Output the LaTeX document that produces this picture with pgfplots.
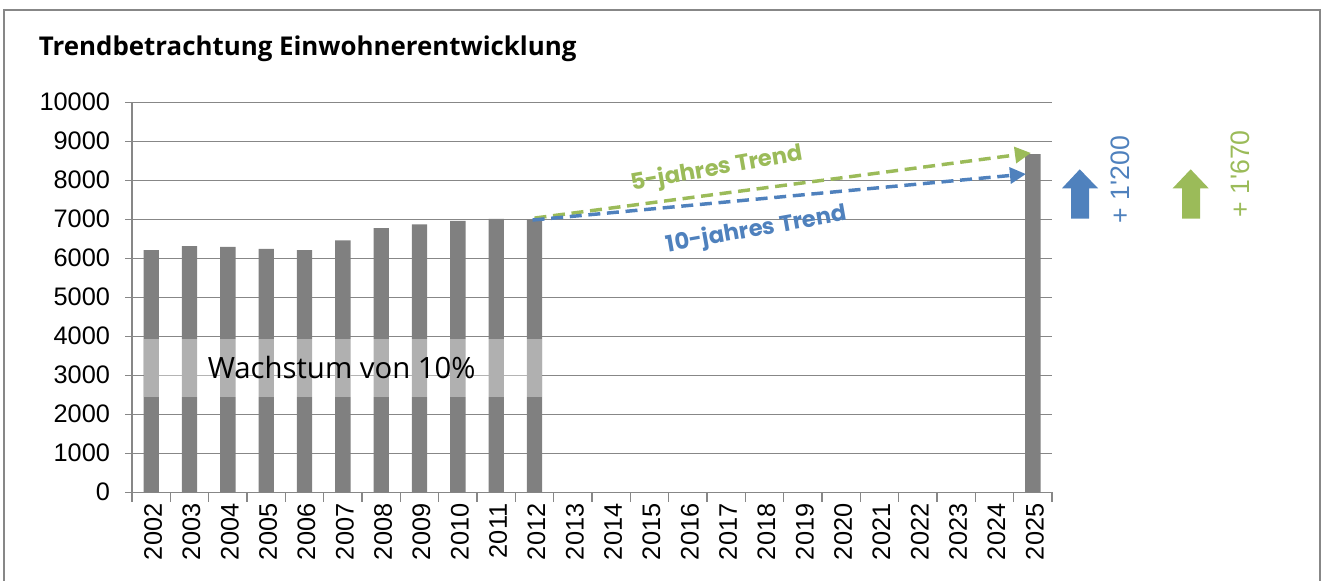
\documentclass[border=0pt]{standalone}
\usepackage{fontspec}
\setmainfont{Liberation Sans}
\newfontfamily\lab{Liberation Sans}
\newfontfamily\titlefont{Open Sans}
\newfontfamily\trendfont{Poppins}
\usepackage{pgfplots}
\pgfplotsset{compat=1.18}
\usetikzlibrary{arrows.meta}
\definecolor{bargray}{HTML}{808080}
\definecolor{gridgray}{HTML}{878787}
\definecolor{tgreen}{HTML}{9BBB59}
\definecolor{tblue}{HTML}{4F81BD}
\begin{document}
\begin{tikzpicture}
\useasboundingbox (0pt,0pt) rectangle (992.25pt,-435.75pt);
\draw[gridgray, line width=1.2pt] (3pt,-450pt) -- (3pt,-7.5pt) -- (990pt,-7.5pt) -- (990pt,-450pt);
\node[anchor=base west, inner sep=0pt, font=\titlefont\bfseries\fontsize{19.4}{22}\selectfont] at (29pt,-41.5pt) {Trendbetrachtung Einwohnerentwicklung};
\begin{axis}[
  at={(99pt,-369.2pt)}, anchor=south west,
  scale only axis, width=690pt, height=292.5pt,
  xmin=-0.5, xmax=23.5, ymin=0, ymax=10000,
  axis x line*=bottom, axis y line*=left,
  axis line style={gridgray, line width=1.1pt},
  ytick={0,1000,...,10000},
  scaled y ticks=false,
  ymajorgrids, grid style={gridgray, line width=1.1pt},
  xtick={0,...,23},
  xticklabels={2002,2003,2004,2005,2006,2007,2008,2009,2010,2011,2012,2013,2014,2015,2016,2017,2018,2019,2020,2021,2022,2023,2024,2025},
  minor xtick={-0.5,0.5,...,23.5},
  tick align=outside,
  major tick length=5pt, minor tick length=7pt,
  major x tick style={draw=none},
  minor x tick style={gridgray, line width=1.1pt},
  y tick style={gridgray, line width=1.1pt},
  ticklabel style={font=\lab\fontsize{19}{20}\selectfont, text=black},
  /pgf/number format/assume math mode=true,
  /pgf/number format/1000 sep={},
  xticklabel style={rotate=90, anchor=east, yshift=-1.5pt},
  yticklabel style={xshift=-8pt},
  clip=false,
]
\addplot[ybar, bar width=11.5pt, fill=bargray, draw=none] coordinates {
(0,6210) (1,6310) (2,6290) (3,6240) (4,6210) (5,6460) (6,6770) (7,6870) (8,6960) (9,7010) (10,7000) (23,8670)};
\fill[white, opacity=0.38] (axis cs:-0.2,2450) rectangle (axis cs:10.2,3930);
\node[font=\titlefont\fontsize{22}{24}\selectfont] at (axis cs:4.97,3190) {Wachstum von 10\%};
\addplot[tgreen, line width=2.6pt, dash pattern=on 9pt off 5pt, -{Triangle[length=12pt,width=12pt]}] coordinates {(10,7030) (22.95,8700)};
\addplot[tblue, line width=2.6pt, dash pattern=on 9pt off 5pt, -{Triangle[length=12pt,width=12pt]}] coordinates {(9.95,6980) (22.82,8160)};
\node[tgreen, rotate=10, font=\trendfont\bfseries\fontsize{17}{20}\selectfont] at (axis cs:14.76,8280) {5-jahres Trend};
\node[tblue, rotate=10, font=\trendfont\bfseries\fontsize{17}{20}\selectfont] at (axis cs:15.8,6720) {10-jahres Trend};
\end{axis}
\fill[tblue] (809.8pt,-127pt) -- (823.5pt,-141.2pt) -- (816.75pt,-141.2pt) -- (816.75pt,-164pt) -- (803.25pt,-164pt) -- (803.25pt,-141.2pt) -- (796.5pt,-141.2pt) -- cycle;
\fill[tgreen] (893pt,-127pt) -- (906.5pt,-141.2pt) -- (900pt,-141.2pt) -- (900pt,-164pt) -- (886.5pt,-164pt) -- (886.5pt,-141.2pt) -- (879.5pt,-141.2pt) -- cycle;
\node[tblue, rotate=90, font=\lab\fontsize{20}{22}\selectfont] at (840pt,-134.8pt) {+ 1'200};
\node[tgreen, rotate=90, font=\lab\fontsize{20}{22}\selectfont] at (930.5pt,-130.5pt) {+ 1'670};
\end{tikzpicture}
\end{document}
